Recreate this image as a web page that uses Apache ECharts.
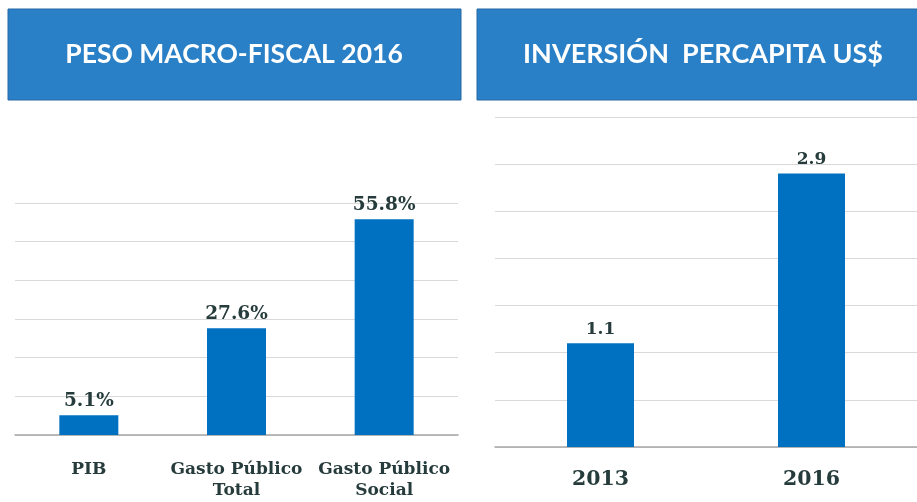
<!DOCTYPE html>
<html>
<head>
<meta charset="utf-8">
<script src="https://cdn.jsdelivr.net/npm/echarts@6/dist/echarts.min.js"></script>
<style>
  html, body { margin: 0; padding: 0; background: #fff; }
  #chart { width: 917px; height: 502px; }
</style>
</head>
<body>
<div id="chart"></div>
<script>
// datos del grafico izquierdo
var pesoCategorias = ['PIB', 'Gasto Público\nTotal', 'Gasto Público\nSocial'];
var pesoValores = [5.1, 27.6, 55.8];
// datos del grafico derecho
var inversionAnios = ['2013', '2016'];
var inversionValores = [1.1, 2.9];

var tituloIzq = 'PESO MACRO-FISCAL 2016';
var tituloDer = 'INVERSIÓN  PERCAPITA US$';

var azulBarra = '#0070c0';
var colorTexto = '#263b3b';
var serif = '"DejaVu Serif", serif';

var chartDom = document.getElementById('chart');
var myChart = echarts.init(chartDom, null, { renderer: 'canvas' });

var option = {
    backgroundColor: '#fff',
    animation: false,
    graphic: [
        {
            type: 'rect',
            shape: { x: 8, y: 9, width: 453, height: 91 },
            style: { fill: '#2a80c6', stroke: '#2566a3', lineWidth: 1 }
        },
        {
            type: 'text',
            x: 234, y: 54,
            style: {
                text: tituloIzq, fill: '#fff', align: 'center', verticalAlign: 'middle',
                font: 'bold 26.5px Lato'
            }
        },
        {
            type: 'rect',
            shape: { x: 477, y: 9, width: 445, height: 91 },
            style: { fill: '#2a80c6', stroke: '#2566a3', lineWidth: 1 }
        },
        {
            type: 'text',
            x: 703, y: 54,
            style: {
                text: tituloDer, fill: '#fff', align: 'center', verticalAlign: 'middle',
                font: 'bold 27px Lato'
            }
        }
    ],
    grid: [
        { left: 15, top: 203, width: 443, height: 232 },
        { left: 495, top: 117, width: 422, height: 330 }
    ],
    xAxis: [
        {
            gridIndex: 0,
            type: 'category',
            data: pesoCategorias,
            axisTick: { show: false },
            axisLine: { lineStyle: { color: '#a6a6a6', width: 1.5 } },
            axisLabel: {
                color: colorTexto, fontFamily: serif, fontWeight: 'bold',
                fontSize: 17, lineHeight: 21, margin: 24, interval: 0
            }
        },
        {
            gridIndex: 1,
            type: 'category',
            data: inversionAnios,
            axisTick: { show: false },
            axisLine: { lineStyle: { color: '#a6a6a6', width: 1.5 } },
            axisLabel: {
                color: colorTexto, fontFamily: serif, fontWeight: 'bold',
                fontSize: 20.5, lineHeight: 24, margin: 21
            }
        }
    ],
    yAxis: [
        {
            gridIndex: 0,
            type: 'value',
            min: 0, max: 60, interval: 10,
            axisLabel: { show: false },
            axisLine: { show: false },
            axisTick: { show: false },
            splitLine: { lineStyle: { color: '#d9d9d9', width: 1 } }
        },
        {
            gridIndex: 1,
            type: 'value',
            min: 0, max: 3.5, interval: 0.5,
            axisLabel: { show: false },
            axisLine: { show: false },
            axisTick: { show: false },
            splitLine: { lineStyle: { color: '#d9d9d9', width: 1 } }
        }
    ],
    series: [
        {
            type: 'bar',
            xAxisIndex: 0, yAxisIndex: 0,
            data: pesoValores,
            barWidth: 59,
            itemStyle: { color: azulBarra },
            label: {
                show: true, position: 'top', distance: 5,
                color: colorTexto, fontFamily: serif, fontWeight: 'bold', fontSize: 18.5,
                formatter: function (p) { return p.value.toFixed(1) + '%'; }
            }
        },
        {
            type: 'bar',
            xAxisIndex: 1, yAxisIndex: 1,
            data: inversionValores,
            barWidth: 67,
            itemStyle: { color: azulBarra },
            label: {
                show: true, position: 'top', distance: 5,
                color: colorTexto, fontFamily: serif, fontWeight: 'bold', fontSize: 17,
                formatter: function (p) { return p.value.toFixed(1); }
            }
        }
    ]
};

myChart.setOption(option);
window.addEventListener('resize', myChart.resize);
</script>
</body>
</html>
